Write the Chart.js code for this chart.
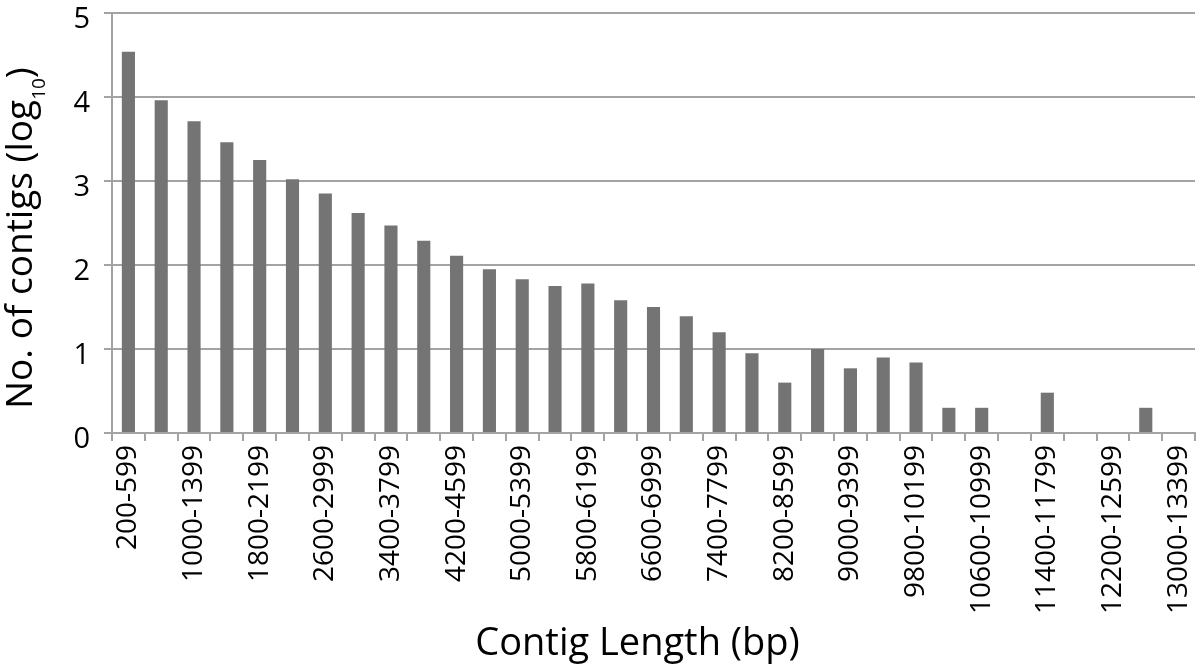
<!DOCTYPE html>
<html lang="en">
<head>
	<meta charset="UTF-8">
	<title>Contig length distribution</title>
	<script src="https://cdn.jsdelivr.net/npm/chart.js@4.4.0/dist/chart.umd.min.js"></script>
	<style>
		html, body { margin: 0; padding: 0; background: #fff; }
		.chart_area { width: 1200px; height: 664px; }
	</style>
</head>
<body>
	<div class="chart_area">
		<canvas id="barChart" width="1200" height="664"></canvas>
	</div>

	<script>
		// categories (contig length bins, bp)
		var categories = [
			'200-599', '600-999', '1000-1399', '1400-1799', '1800-2199', '2200-2599', '2600-2999',
			'3000-3399', '3400-3799', '3800-4199', '4200-4599', '4600-4999', '5000-5399', '5400-5799',
			'5800-6199', '6200-6599', '6600-6999', '7000-7399', '7400-7799', '7800-8199', '8200-8599',
			'8600-8999', '9000-9399', '9400-9799', '9800-10199', '10200-10599', '10600-10999',
			'11000-11399', '11400-11799', '11800-12199', '12200-12599', '12600-12999', '13000-13399'
		];
		// no. of contigs, log10
		var logContigs = [
			4.54, 3.96, 3.71, 3.46, 3.25, 3.02, 2.85, 2.62, 2.47, 2.29, 2.11,
			1.95, 1.83, 1.75, 1.78, 1.58, 1.50, 1.39, 1.20, 0.95, 0.60, 1.00,
			0.77, 0.90, 0.84, 0.30, 0.30, 0, 0.48, 0, 0, 0.30, 0
		];
		var yMin = 0;
		var yMax = 5;
		var yStep = 1;
		var xTitle = 'Contig Length (bp)';
		var yTitleMain = 'No. of contigs (log';
		var yTitleSub = '10';
		var yTitleEnd = ')';

		var axisGray = '#a3a3a3';
		var fontFamily = '"Open Sans", "DejaVu Sans", sans-serif';

		// axis titles drawn by hand (y title needs a real subscript)
		var axisTitlePlugin = {
			id: 'axisTitles',
			afterDraw: function (chart) {
				var ctx = chart.ctx;
				var area = chart.chartArea;
				var mainFont = '37px ' + fontFamily;
				var subFont = '19px ' + fontFamily;
				ctx.save();
				ctx.fillStyle = '#000';
				ctx.textBaseline = 'alphabetic';

				// x title
				ctx.font = '38px ' + fontFamily;
				ctx.textAlign = 'center';
				ctx.fillText(xTitle, (area.left + area.right) / 2 - 16, 655);

				// y title
				ctx.textAlign = 'left';
				ctx.font = mainFont;
				var w1 = ctx.measureText(yTitleMain).width;
				var w3 = ctx.measureText(yTitleEnd).width;
				ctx.font = subFont;
				var w2 = ctx.measureText(yTitleSub).width;
				var total = w1 + w2 + w3;
				var cy = (area.top + area.bottom) / 2 + 15;
				ctx.translate(32, cy);
				ctx.rotate(-Math.PI / 2);
				var x = -total / 2;
				ctx.font = mainFont;
				ctx.fillText(yTitleMain, x, 0);
				x += w1;
				ctx.font = subFont;
				ctx.fillText(yTitleSub, x, 13);
				x += w2;
				ctx.font = mainFont;
				ctx.fillText(yTitleEnd, x, 0);
				ctx.restore();
			}
		};

		var barCtx = document.querySelector('#barChart').getContext('2d');
		var barChart = new Chart(barCtx, {
			type: 'bar',
			data: {
				labels: categories,
				datasets: [{
					data: logContigs,
					backgroundColor: '#747474',
					borderWidth: 0,
					barPercentage: 0.4,
					categoryPercentage: 1.0
				}]
			},
			plugins: [axisTitlePlugin],
			options: {
				responsive: false,
				animation: false,
				layout: {
					padding: { top: 13, right: 5, bottom: 0, left: 0 }
				},
				plugins: {
					legend: { display: false },
					tooltip: { enabled: false }
				},
				scales: {
					x: {
						offset: true,
						grid: {
							display: true,
							offset: true,
							drawOnChartArea: false,
							drawTicks: true,
							tickLength: 8,
							color: axisGray,
							lineWidth: 2
						},
						border: { display: true, color: axisGray, width: 2 },
						ticks: {
							autoSkip: false,
							minRotation: 90,
							maxRotation: 90,
							padding: 4,
							color: '#000',
							font: { family: fontFamily, size: 28 },
							// only every second bin gets a label
							callback: function (val, index) {
								return index % 2 === 0 ? this.getLabelForValue(val) : '';
							}
						},
						afterFit: function (scale) {
							scale.height = 231;
							scale.paddingLeft = 0;
							scale.paddingRight = 0;
						}
					},
					y: {
						min: yMin,
						max: yMax,
						ticks: {
							stepSize: yStep,
							padding: 14,
							labelOffset: 7,
							color: '#000',
							font: { family: fontFamily, size: 29 }
						},
						grid: {
							color: axisGray,
							lineWidth: 2,
							drawTicks: true,
							tickLength: 8
						},
						border: { display: true, color: axisGray, width: 2 },
						afterFit: function (scale) {
							scale.width = 112;
							scale.paddingTop = 0;
							scale.paddingBottom = 0;
						}
					}
				}
			}
		});
	</script>
</body>
</html>
